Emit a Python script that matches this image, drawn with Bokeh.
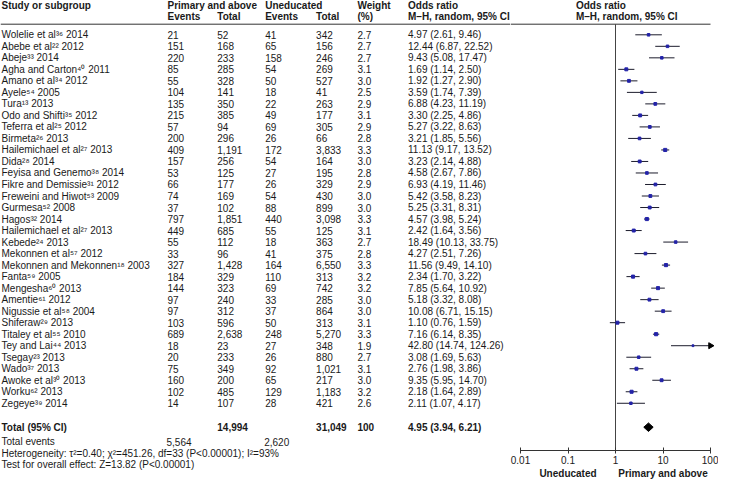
import numpy as np
from bokeh.plotting import figure
from bokeh.layouts import row
from bokeh.models import (ColumnDataSource, Range1d, LogScale, LogAxis, FixedTicker,
                          CustomJSTickFormatter)
from bokeh.core.properties import value
from bokeh.embed import file_html
from bokeh.resources import INLINE

# ---------------- data ----------------
studies = [
    "Wolelie et al³⁶ 2014", "Abebe et al²² 2012", "Abeje³³ 2014", "Agha and Carton⁴⁰ 2011",
    "Amano et al³⁴ 2012", "Ayele⁵⁴ 2005", "Tura¹³ 2013", "Odo and Shifti³⁵ 2012",
    "Teferra et al²⁵ 2012", "Birmeta²⁶ 2013", "Hailemichael et al²⁷ 2013", "Dida²⁸ 2014",
    "Feyisa and Genemo³⁸ 2014", "Fikre and Demissie³¹ 2012", "Freweini and Hiwot⁵³ 2009",
    "Gurmesa⁵² 2008", "Hagos³² 2014", "Hailemichael et al²⁷ 2013", "Kebede²⁴ 2013",
    "Mekonnen et al⁵⁷ 2012", "Mekonnen and Mekonnen¹⁸ 2003", "Fanta⁵⁹ 2005",
    "Mengesha⁶⁰ 2013", "Amentie⁶¹ 2012", "Nigussie et al⁵⁸ 2004", "Shiferaw²⁹ 2013",
    "Titaley et al⁵⁵ 2010", "Tey and Lai⁴⁴ 2013", "Tsegay²³ 2013", "Wado³⁷ 2013",
    "Awoke et al³⁰ 2013", "Worku⁶² 2013", "Zegeye³⁹ 2014",
]
pa_events = [21, 151, 220, 85, 55, 104, 135, 215, 57, 200, 409, 157, 53, 66, 74, 37, 797,
             449, 55, 33, 327, 184, 144, 97, 97, 103, 689, 18, 20, 75, 160, 102, 14]
pa_total = [52, 168, 233, 285, 328, 141, 350, 385, 94, 296, 1191, 256, 125, 177, 169, 102,
            1851, 685, 112, 96, 1428, 329, 323, 240, 312, 596, 2638, 23, 233, 349, 200, 485, 107]
un_events = [41, 65, 158, 54, 50, 18, 22, 49, 69, 26, 172, 54, 27, 26, 54, 88, 440, 55, 18,
             41, 164, 110, 69, 33, 37, 50, 248, 27, 26, 92, 65, 129, 28]
un_total = [342, 156, 246, 269, 527, 41, 263, 177, 305, 66, 3833, 164, 195, 329, 430, 899,
            3098, 125, 363, 375, 6550, 313, 742, 285, 864, 313, 5270, 348, 880, 1021, 217, 1183, 421]
weights = [2.7, 2.7, 2.7, 3.1, 3.0, 2.5, 2.9, 3.1, 2.9, 2.8, 3.3, 3.0, 2.8, 2.9, 3.0, 3.0, 3.3,
           3.1, 2.7, 2.8, 3.3, 3.2, 3.2, 3.0, 3.0, 3.1, 3.3, 1.9, 2.7, 3.1, 3.0, 3.2, 2.6]
odds = [4.97, 12.44, 9.43, 1.69, 1.92, 3.59, 6.88, 3.30, 5.27, 3.21, 11.13, 3.23, 4.58, 6.93,
        5.42, 5.25, 4.57, 2.42, 18.49, 4.27, 11.56, 2.34, 7.85, 5.18, 10.08, 1.10, 7.16, 42.80,
        3.08, 2.76, 9.35, 2.18, 2.11]
ci_low = [2.61, 6.87, 5.08, 1.14, 1.27, 1.74, 4.23, 2.25, 3.22, 1.85, 9.17, 2.14, 2.67, 4.19,
          3.58, 3.31, 3.98, 1.64, 10.13, 2.51, 9.49, 1.70, 5.64, 3.32, 6.71, 0.76, 6.14, 14.74,
          1.69, 1.98, 5.95, 1.64, 1.07]
ci_high = [9.46, 22.52, 17.47, 2.50, 2.90, 7.39, 11.19, 4.86, 8.63, 5.56, 13.52, 4.88, 7.86,
           11.46, 8.23, 8.31, 5.24, 3.56, 33.75, 7.26, 14.10, 3.22, 10.92, 8.08, 15.15, 1.59,
           8.35, 124.26, 5.63, 3.86, 14.70, 2.89, 4.17]

total_pa = 14994
total_un = 31049
events_pa = 5564
events_un = 2620
pooled_weight = 100
pooled_or, pooled_lo, pooled_hi = 4.95, 3.94, 6.21
heterogeneity = "Heterogeneity: τ²=0.40; χ²=451.26, df=33 (P<0.00001); I²=93%"
overall_effect = "Test for overall effect: Z=13.82 (P<0.00001)"
axis_ticks = [0.01, 0.1, 1, 10, 100]
favours = ["Uneducated", "Primary and above"]
favour_ticks = [0.1, 10]

# ---------------- layout (pixels) ----------------
FONT = "Liberation Sans"
FS = "10px"
TXT = "#1a1a1a"
H = 488
WL, WR = 510, 208
BOTTOM = 38                     # room for the two axes under the forest plot
ROW0, ROWH = 34.3, 11.515       # first study row and row pitch (px from top)
def row_of(ypx):
    return (ypx - ROW0) / ROWH

FX_ONE, FDEC = 615.0, 47.5      # pixel position of OR=1 and width of one decade
def or_at(xpx):
    return 10 ** ((xpx - FX_ONE) / FDEC)

common = dict(output_backend="svg", toolbar_location=None, min_border_left=0,
              min_border_right=0, min_border_top=0, outline_line_color=None,
              x_axis_type=None, y_axis_type=None)

# ---- left: table ----
p1 = figure(width=WL, height=H, x_range=Range1d(0, WL),
            y_range=Range1d(row_of(H), row_of(0)), min_border_bottom=0, **common)
p1.frame_align = False

n = len(studies)
rows = np.arange(n)
fmt = lambda v: f"{v:,}"
src = ColumnDataSource(dict(
    row=rows,
    study=studies,
    pa_e=[fmt(v) for v in pa_events], pa_t=[fmt(v) for v in pa_total],
    un_e=[fmt(v) for v in un_events], un_t=[fmt(v) for v in un_total],
    w=[f"{v:.1f}" for v in weights],
    ci=[f"{o:.2f} ({l:.2f}, {h:.2f})" for o, l, h in zip(odds, ci_low, ci_high)],
))

COL_STUDY, COL_PAE, COL_PAT, COL_UNE, COL_UNT, COL_W, COL_CI, COL_FOREST = \
    1, 167, 216.8, 264.7, 315.6, 357, 407.5, 575.4
txt_kw = dict(text_font=value(FONT), text_font_size=FS, text_baseline="middle",
              text_align="left", text_color=TXT)

for xc, col in [(COL_STUDY, "study"), (COL_PAE, "pa_e"), (COL_PAT, "pa_t"), (COL_UNE, "un_e"),
                (COL_UNT, "un_t"), (COL_W, "w"), (COL_CI, "ci")]:
    p1.text(x=xc, y="row", text=col, source=src, **txt_kw)

h1, h2, hl = row_of(4.6), row_of(15.8), row_of(23.7)
hdr = ColumnDataSource(dict(
    x=[COL_STUDY, COL_PAE, COL_UNE, COL_W, COL_CI,
       COL_PAE, COL_PAT, COL_UNE, COL_UNT, COL_W, COL_CI],
    y=[h1] * 5 + [h2] * 6,
    t=["Study or subgroup", "Primary and above", "Uneducated", "Weight", "Odds ratio",
       "Events", "Total", "Events", "Total", "(%)", "M–H, random, 95% CI"],
))
p1.text(x="x", y="y", text="t", source=hdr, text_font_style="bold", **txt_kw)

tot_row = row_of(426.7)
tot = ColumnDataSource(dict(
    x=[COL_STUDY, COL_PAT, COL_UNT, COL_W, COL_CI],
    y=[tot_row] * 5,
    t=["Total (95% CI)", fmt(total_pa), fmt(total_un), str(pooled_weight),
       f"{pooled_or:.2f} ({pooled_lo:.2f}, {pooled_hi:.2f})"],
))
p1.text(x="x", y="y", text="t", source=tot, text_font_style="bold", **txt_kw)
foot = ColumnDataSource(dict(
    x=[COL_STUDY, COL_PAE - 1, COL_UNE - 1, COL_STUDY, COL_STUDY],
    y=[row_of(441.4)] * 3 + [row_of(452.9), row_of(463.6)],
    t=["Total events", fmt(events_pa), fmt(events_un), heterogeneity, overall_effect]))
p1.text(x="x", y="y", text="t", source=foot, **txt_kw)

p1.segment(x0=0, y0=hl, x1=WL, y1=hl, line_color="#333333", line_width=1)

# ---- right: forest plot ----
frame_bottom = H - BOTTOM
p2 = figure(width=WR, height=H, x_range=Range1d(or_at(WL), or_at(WL + WR)),
            y_range=Range1d(row_of(frame_bottom), row_of(0)), min_border_bottom=BOTTOM, **common)
p2.x_scale = LogScale()
p2.frame_align = False

fsrc = ColumnDataSource(dict(
    row=rows, odds=odds, lo=ci_low,
    hi=np.minimum(ci_high, axis_ticks[-1]),
    size=np.array(weights) * 0.95,
))

fh = ColumnDataSource(dict(x=[or_at(COL_FOREST)] * 2, y=[h1, h2],
                           t=["Odds ratio", "M–H, random, 95% CI"]))
p2.text(x="x", y="y", text="t", source=fh, text_font_style="bold", **txt_kw)

p2.segment(x0=or_at(WL), y0=hl, x1=axis_ticks[-1], y1=hl, line_color="#333333", line_width=1)
p2.segment(x0=1, y0=hl, x1=1, y1=row_of(frame_bottom), line_color="#444444", line_width=1)

p2.segment(x0="lo", y0="row", x1="hi", y1="row", source=fsrc, line_color="#1c1c2c", line_width=1)
p2.scatter(x="odds", y="row", size="size", marker="square", source=fsrc,
           fill_color="#2323a8", line_color="#2323a8")
over = [i for i in range(n) if ci_high[i] > axis_ticks[-1]]
p2.scatter(x=[axis_ticks[-1]] * len(over), y=[rows[i] for i in over], marker="triangle",
           angle=-np.pi / 2, size=6, fill_color="black", line_color="black")

dh = 0.37
p2.patch(x=[pooled_lo, pooled_or, pooled_hi, pooled_or],
         y=[tot_row, tot_row - dh, tot_row, tot_row + dh],
         fill_color="black", line_color="black")

ax = LogAxis(ticker=FixedTicker(ticks=axis_ticks),
             formatter=CustomJSTickFormatter(code="return tick.toString();"),
             bounds=(axis_ticks[0], axis_ticks[-1]))
ax.major_tick_in = 3
ax.major_tick_out = 3
ax.minor_tick_line_color = None
ax.axis_line_color = "#333333"
ax.major_tick_line_color = "#333333"
ax.major_label_text_font = FONT
ax.major_label_text_font_size = FS
ax.major_label_text_color = TXT
ax.major_label_standoff = 2
p2.add_layout(ax, "below")

ax2 = LogAxis(ticker=FixedTicker(ticks=favour_ticks),
              formatter=CustomJSTickFormatter(args=dict(a=favours[0], b=favours[1]),
                                              code="return tick < 1 ? a : b;"))
ax2.axis_line_color = None
ax2.major_tick_line_color = None
ax2.minor_tick_line_color = None
ax2.major_tick_in = 0
ax2.major_tick_out = 0
ax2.major_label_standoff = 1
ax2.major_label_text_font = FONT
ax2.major_label_text_font_size = FS
ax2.major_label_text_font_style = "bold"
ax2.major_label_text_color = TXT
p2.add_layout(ax2, "below")

layout = row(p1, p2)
open("out.html", "w").write(file_html(layout, INLINE))
